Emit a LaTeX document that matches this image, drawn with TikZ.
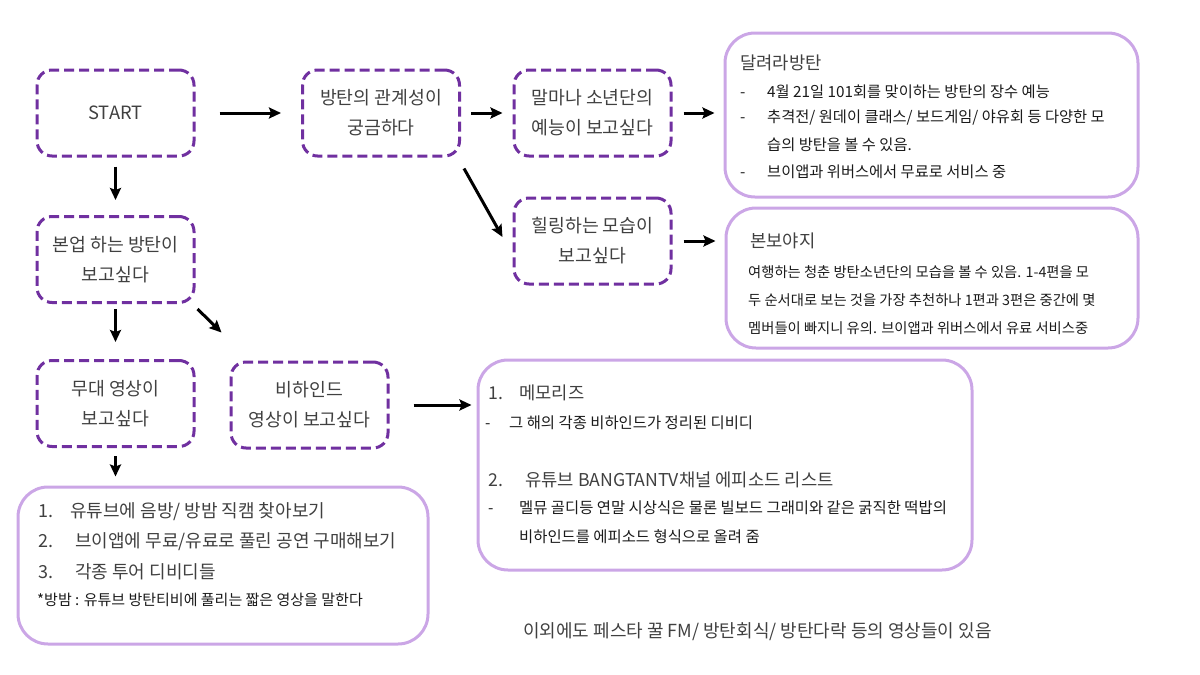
\documentclass[tikz,border=0pt]{standalone}
\usepackage{fontspec}
\setmainfont{Noto Sans CJK KR}
\usetikzlibrary{positioning}
\usetikzlibrary{arrows.meta}
\definecolor{dashpurple}{HTML}{7030A0}
\definecolor{lavender}{HTML}{CBA6E6}
\definecolor{boxgray}{HTML}{404040}
\definecolor{inkblack}{HTML}{1A1A1A}

\begin{document}
\begin{tikzpicture}[x=1pt,y=-1pt,
      choice/.style={draw=dashpurple, line width=3pt, dash pattern=on 10pt off 5pt, rounded corners=15pt, minimum width=157pt, minimum height=86pt, align=center, text=boxgray, font=\fontsize{18.3}{30}\selectfont},
      panel/.style={draw=lavender, line width=3pt, rounded corners=30pt},
      paneltitle/.style={anchor=west, inner sep=0pt, text=boxgray, font=\fontsize{#1}{20}\selectfont},
      paneltitle/.default=17.7,
      item/.style={anchor=west, inner sep=0pt, text=inkblack, font=\fontsize{#1}{18}\selectfont},
      item/.default=15.3,
      arr/.style={-{Stealth[length=12pt, width=11pt, inset=2pt]}, line width=3pt}
    ]
    \useasboundingbox (0,0) rectangle (1200,675);

    % questions
    \node [choice] (start) at (115.5,113) {START} ;
    \node [choice] (relation) at (381,113) {방탄의 관계성이\\궁금하다} ;
    \node [choice] (variety) at (592.5,113) {말마나 소년단의\\예능이 보고싶다} ;
    \node [choice] (healing) at (592.5,241) {힐링하는 모습이\\보고싶다} ;
    \node [choice] (work) at (115.5,259.5) {본업 하는 방탄이\\보고싶다} ;
    \node [choice] (stage) at (115.5,403.5) {무대 영상이\\보고싶다} ;
    \node [choice] (behind) at (309.5,405) {비하인드\\영상이 보고싶다} ;

    % answers
    \node [panel, minimum width=413pt, minimum height=164pt] (run) at (931.5,115) {} ;
    \node [panel, minimum width=412pt, minimum height=140pt] (bonvoyage) at (932,278) {} ;
    \node [panel, minimum width=494pt, minimum height=210pt] (memories) at (725,465) {} ;
    \node [panel, minimum width=410pt, minimum height=157pt] (youtube) at (223,565.5) {} ;

    \node [paneltitle] (runTitle) at (740,63) {달려라방탄} ;
    \node [item] at (740,92) {\makebox[27pt][l]{-}4월 21일 101회를 맞이하는 방탄의 장수 예능} ;
    \node [item] at (740,118) {\makebox[27pt][l]{-}추격전/ 원데이 클래스/ 보드게임/ 야유회 등 다양한 모} ;
    \node [item] at (767,145) {습의 방탄을 볼 수 있음.} ;
    \node [item] at (740,172) {\makebox[27pt][l]{-}브이앱과 위버스에서 무료로 서비스 중} ;

    \node [paneltitle] (bonTitle) at (750,241) {본보야지} ;
    \node [item=14.3] at (748,272) {여행하는 청춘 방탄소년단의 모습을 볼 수 있음. 1-4편을 모} ;
    \node [item=14.3] at (748,300) {두 순서대로 보는 것을 가장 추천하나 1편과 3편은 중간에 몇} ;
    \node [item=14.3] at (748,328) {멤버들이 빠지니 유의. 브이앱과 위버스에서 유료 서비스중} ;

    \node [paneltitle] (memTitle) at (488,393) {\makebox[31pt][l]{1.}메모리즈} ;
    \node [item=15.4] at (485,423) {\makebox[24pt][l]{-}그 해의 각종 비하인드가 정리된 디비디} ;
    \node [paneltitle] (tvTitle) at (488,480) {\makebox[37pt][l]{2.}유튜브 BANGTANTV채널 에피소드 리스트} ;
    \node [item=15.4] at (488,508) {\makebox[31pt][l]{-}멜뮤 골디등 연말 시상식은 물론 빌보드 그래미와 같은 굵직한 떡밥의} ;
    \node [item=15.4] at (519,537) {비하인드를 에피소드 형식으로 올려 줌} ;

    \node [paneltitle=18] at (38,512) {\makebox[32pt][l]{1.}유튜브에 음방/ 방밤 직캠 찾아보기} ;
    \node [paneltitle=18] at (38,542) {\makebox[37pt][l]{2.}브이앱에 무료/유료로 풀린 공연 구매해보기} ;
    \node [paneltitle=18] at (38,572) {\makebox[37pt][l]{3.}각종 투어 디비디들} ;
    \node [item=15] at (37,600) {*방밤 : 유튜브 방탄티비에 풀리는 짧은 영상을 말한다} ;

    \node [paneltitle=18] (extra) at (523,632) {이외에도 페스타 꿀 FM/ 방탄회식/ 방탄다락 등의 영상들이 있음} ;

    \draw [arr, shorten <=24pt, shorten >=20pt] (start) -- (relation) ;
    \draw [arr, shorten <=10pt, shorten >=10pt] (relation) -- (variety) ;
    \draw [arr] ([shift={(3,11)}]relation.south east) -- ([shift={(-10,-4)}]healing.west) ;
    \draw [arr, shorten <=11pt, shorten >=9pt] (variety.east) -- (variety.east -| run.west) ;
    \draw [arr, shorten <=11pt, shorten >=9pt] (healing.east) -- (healing.east -| bonvoyage.west) ;
    \draw [arr, shorten <=9pt, shorten >=15pt] (start) -- (work) ;
    \draw [arr, shorten <=5pt, shorten >=17pt] (work) -- (stage) ;
    \draw [arr] ([shift={(2,5)}]work.south east) -- ([shift={(-8,-28)}]behind.north west) ;
    \draw [arr, shorten <=24pt, shorten >=5pt] (behind.east) -- (behind.east -| memories.west) ;
    \draw [arr, shorten <=8pt, shorten >=9pt] (stage.south) -- (stage.south |- youtube.north) ;
  \end{tikzpicture}
\end{document}
